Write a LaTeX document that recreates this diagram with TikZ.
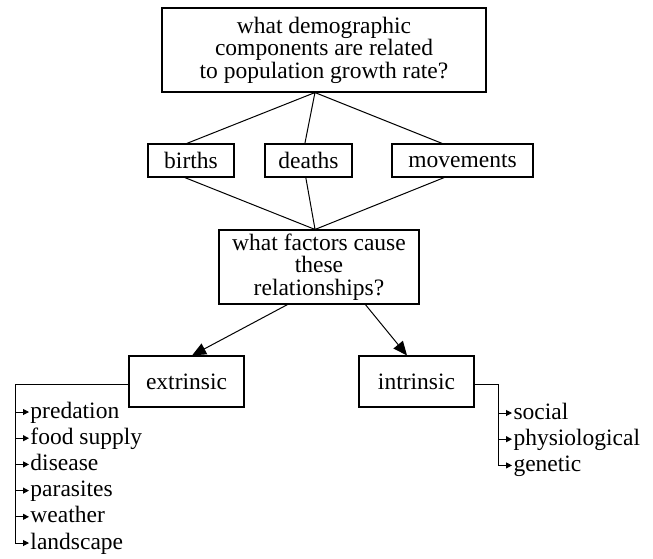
\documentclass[tikz,border=0pt]{standalone}
\usepackage{fontspec}
\setmainfont{Liberation Serif}
\usetikzlibrary{positioning,arrows.meta}

\begin{document}
\begin{tikzpicture}[x=1pt,y=-1pt,node distance=26.2pt,line width=1pt,
        box/.style={draw,line width=1.1pt,inner sep=2pt,align=center,font=\fontsize{23.5}{22.5}\selectfont},
        factor/.style={inner sep=1pt,anchor=west,text height=17pt,text depth=5pt,font=\fontsize{23.5}{22.5}\selectfont},
        bigtip/.style={-{Triangle[length=14pt,width=12pt]}},
        smalltip/.style={-{Triangle[length=6pt,width=6pt]}}]
        \useasboundingbox (0,0) rectangle (653,558);

        \node[box,minimum width=324pt,minimum height=84pt] (question) at (324,50) {what demographic\\components are related\\to population growth rate?};
        \node[box,minimum width=86pt,minimum height=33pt] (births) at (191,160.5) {births};
        \node[box,minimum width=87pt,minimum height=33pt] (deaths) at (308.5,160.5) {deaths};
        \node[box,minimum width=141pt,minimum height=33pt] (movements) at (462.5,160.5) {movements};
        \node[box,minimum width=200pt,minimum height=74pt] (factors) at (319,267) {what factors cause\\these\\relationships?};
        \node[box,minimum width=115pt,minimum height=51pt] (extrinsic) at (186.5,381.5) {extrinsic};
        \node[box,minimum width=115pt,minimum height=51pt] (intrinsic) at (416.5,381.5) {intrinsic};

        % extrinsic factors
        \node[factor] (predation) at (29,412) {predation};
        \node[factor] (food) [below=of predation.west,anchor=west] {food supply};
        \node[factor] (disease) [below=of food.west,anchor=west] {disease};
        \node[factor] (parasites) [below=of disease.west,anchor=west] {parasites};
        \node[factor] (weather) [below=of parasites.west,anchor=west] {weather};
        \node[factor] (landscape) [below=of weather.west,anchor=west] {landscape};

        % intrinsic factors
        \node[factor] (social) at (512,413) {social};
        \node[factor] (physio) [below=of social.west,anchor=west] {physiological};
        \node[factor] (genetic) [below=of physio.west,anchor=west] {genetic};

        \coordinate (erail) at (15,384);
        \coordinate (irail) at (498,384);

        \draw (question.-102) -- (births.104)
              (question.-102) -- (deaths.102)
              (question.-102) -- (movements.140)
              (births.250) -- (factors.96)
              (deaths.261) -- (factors.96)
              (movements.223) -- (factors.96);

        \draw[bigtip] (factors.230) -- (extrinsic.78);
        \draw[bigtip] (factors.321) -- (intrinsic.110);

        \draw (extrinsic.west |- erail) -- (erail);
        \draw[smalltip] (erail) |- (landscape.west);
        \draw[smalltip] (erail |- predation.west) -- (predation.west);
        \draw[smalltip] (erail |- food.west) -- (food.west);
        \draw[smalltip] (erail |- disease.west) -- (disease.west);
        \draw[smalltip] (erail |- parasites.west) -- (parasites.west);
        \draw[smalltip] (erail |- weather.west) -- (weather.west);

        \draw (intrinsic.east |- irail) -- (irail);
        \draw[smalltip] (irail) |- (genetic.west);
        \draw[smalltip] (irail |- social.west) -- (social.west);
        \draw[smalltip] (irail |- physio.west) -- (physio.west);
\end{tikzpicture}
\end{document}
